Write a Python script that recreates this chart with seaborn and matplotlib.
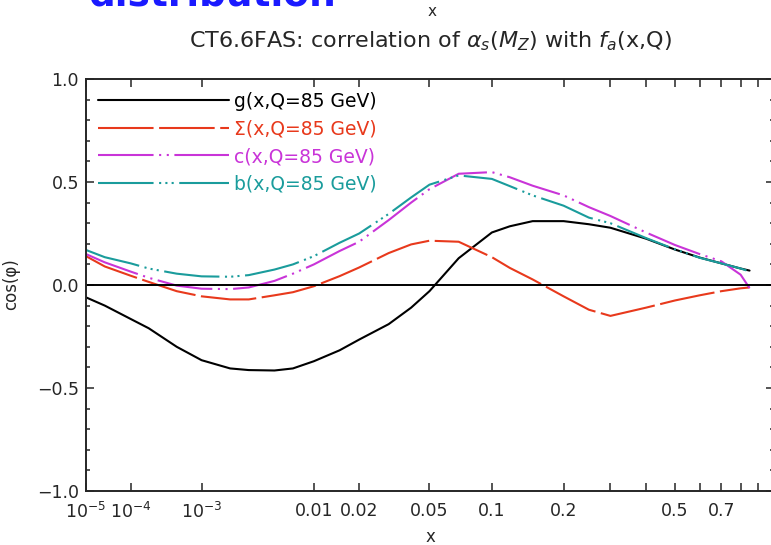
import numpy as np
import pandas as pd
import matplotlib
matplotlib.use('Agg')
import matplotlib.pyplot as plt
import seaborn as sns

x_vals = [1e-5, 3e-5, 1e-4, 2e-4, 5e-4, 1e-3, 2e-3, 3e-3, 5e-3, 7e-3, 0.01, 0.015, 0.02,
          0.03, 0.04, 0.05, 0.07, 0.1, 0.12, 0.15, 0.2, 0.25, 0.3, 0.4, 0.5, 0.6, 0.7, 0.8, 0.85]

g_vals = [-0.06, -0.10, -0.165, -0.21, -0.30, -0.365, -0.405, -0.413, -0.415, -0.405, -0.37, -0.317,
          -0.265, -0.19, -0.11, -0.03, 0.13, 0.255, 0.285, 0.31, 0.31, 0.295, 0.278, 0.225, 0.172,
          0.133, 0.105, 0.08, 0.07]
sigma_vals = [0.14, 0.09, 0.045, 0.015, -0.03, -0.055, -0.07, -0.07, -0.05, -0.035, -0.006, 0.043,
              0.085, 0.155, 0.197, 0.215, 0.21, 0.135, 0.083, 0.027, -0.055, -0.12, -0.15, -0.11,
              -0.075, -0.05, -0.03, -0.016, -0.012]
c_vals = [0.15, 0.11, 0.065, 0.035, -0.003, -0.018, -0.02, -0.012, 0.02, 0.055, 0.10, 0.165, 0.21,
          0.315, 0.40, 0.465, 0.54, 0.548, 0.523, 0.482, 0.435, 0.378, 0.335, 0.255, 0.194, 0.15,
          0.115, 0.05, -0.015]
b_vals = [0.17, 0.135, 0.105, 0.08, 0.055, 0.042, 0.04, 0.048, 0.075, 0.10, 0.14, 0.205, 0.25,
          0.345, 0.425, 0.487, 0.532, 0.515, 0.48, 0.435, 0.385, 0.327, 0.30, 0.228, 0.173, 0.132,
          0.105, 0.08, 0.066]

labels = ['g(x,Q=85 GeV)', '\u03a3(x,Q=85 GeV)', 'c(x,Q=85 GeV)', 'b(x,Q=85 GeV)']
colors = ['black', '#e8391c', '#c934d8', '#1a9c9c']
styles = ['-', (0, (40, 4)), (0, (40, 4, 1.5, 4, 1.5, 4)), (0, (40, 4, 1.5, 3, 1.5, 3, 1.5, 4))]

xticks = [1e-5, 1e-4, 1e-3, 0.01, 0.02, 0.05, 0.1, 0.2, 0.3, 0.4, 0.5, 0.6, 0.7, 0.8, 0.9]
xticklabels = ['$10^{-5}$', '$10^{-4}$', '$10^{-3}$', '0.01', '0.02', '0.05', '0.1', '0.2',
               '', '', '0.5', '', '0.7', '', '']

sns.set_style('ticks')
plt.rcParams['font.family'] = ['DejaVu Sans']
plt.rcParams['mathtext.fontset'] = 'dejavusans'
plt.rcParams['lines.scale_dashes'] = False

fig = plt.figure(figsize=(7.71, 5.45), dpi=100)
ax = fig.add_axes([86/771, 1-491/545, 688/771, 412/545])
ax.set_xscale('function', functions=(lambda v: np.power(np.clip(v, 1e-12, None), 0.2),
                                     lambda v: np.power(np.clip(v, 0, None), 5)))

handles = []
for vals, lab, col, ls in zip([g_vals, sigma_vals, c_vals, b_vals], labels, colors, styles):
    sns.lineplot(x=x_vals, y=vals, color=col, linestyle=ls, linewidth=1.5, ax=ax)
    ax.lines[-1].set_label(lab)
    handles.append(ax.lines[-1])

ax.axhline(0, color='black', lw=1.4)
ax.set_xlim(1e-5, 1)
ax.set_ylim(-1, 1)
ax.set_xticks(xticks)
ax.set_xticklabels(xticklabels)
ax.set_yticks([-1, -0.5, 0, 0.5, 1])
ax.set_yticklabels(['\u22121.0', '\u22120.5', '0.0', '0.5', '1.0'])
ax.set_yticks(np.arange(-0.9, 1.0, 0.1), minor=True)
ax.tick_params(which='both', direction='in', top=True, right=True, labelsize=12.5, width=1.1)
ax.tick_params(which='major', length=6)
ax.tick_params(axis='x', which='major', pad=8)
ax.tick_params(axis='y', which='major', pad=5)
ax.tick_params(which='minor', length=3)
for sp in ax.spines.values():
    sp.set_linewidth(1.4)

leg = ax.legend(handles=handles, loc='upper left', bbox_to_anchor=(0.0174, 0.969), frameon=False,
                handlelength=7.0, handletextpad=0.27, labelspacing=0.46, borderpad=0,
                borderaxespad=0, fontsize=13.5, labelcolor='linecolor')

ax.set_xlabel('x', fontsize=12, va='center')
ax.xaxis.set_label_coords(0.5, (491-537)/412)
ax.set_ylabel('cos(\u03c6)', fontsize=12)
ax.yaxis.set_label_coords(-0.096, 0.502)

fig.text(430/771, 1-47/545, r'CT6.6FAS: correlation of $\alpha_s(M_Z)$ with $f_a$(x,Q)',
         ha='center', va='baseline', fontsize=16)
fig.text(432/771, 1-16/545, 'x', ha='center', va='baseline', fontsize=11)
fig.text(88/771, 1-6/545, 'distribution', ha='left', va='baseline', fontsize=27,
         fontweight='bold', color='#1a1aff')

fig.savefig('out.png', dpi=100)
